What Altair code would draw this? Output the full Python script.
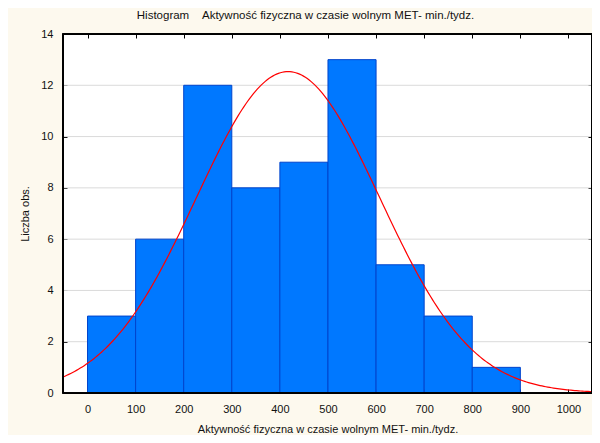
import altair as alt
import numpy as np
import pandas as pd

# Histogram data
bin_start = [0, 100, 200, 300, 400, 500, 600, 700, 800]
bin_end = [100, 200, 300, 400, 500, 600, 700, 800, 900]
counts = [3, 6, 12, 8, 9, 13, 5, 3, 1]

# Fitted normal curve parameters
fit_mean = 417.0
fit_sd = 191.0

x_ticks = [0, 100, 200, 300, 400, 500, 600, 700, 800, 900, 1000]
y_ticks = [0, 2, 4, 6, 8, 10, 12, 14]
grid_vals = [2, 4, 6, 8, 10, 12]

bars = pd.DataFrame({"start": bin_start, "end": bin_end, "count": counts})
n = sum(counts)
width_bin = 100
xs_curve = np.linspace(-51, 1049, 276)
ys_curve = n * width_bin / (fit_sd * np.sqrt(2 * np.pi)) * np.exp(-0.5 * ((xs_curve - fit_mean) / fit_sd) ** 2)
curve = pd.DataFrame({"x": xs_curve, "y": ys_curve})
grid = pd.DataFrame({"g": grid_vals})

W, H = 529, 359
xs = alt.Scale(domain=[-51, 1049], nice=False, zero=False)
ys = alt.Scale(domain=[0, 14], nice=False, zero=True)

FONT = "Liberation Sans"

x_bottom = alt.Axis(values=x_ticks, format="d", offset=-4, tickSize=4, domain=False, grid=False,
                    labelPadding=10, labelFontSize=11, labelFont=FONT, labelColor="#111",
                    tickColor="#000", title="Aktywność fizyczna w czasie wolnym MET- min./tydz.",
                    titleFont=FONT, titleFontSize=11, titleFontWeight="normal", titleColor="#111",
                    titlePadding=9)
y_left = alt.Axis(values=y_ticks, offset=-4, tickSize=4, domain=False, grid=False,
                  labelPadding=10, labelFontSize=11, labelFont=FONT, labelColor="#111",
                  tickColor="#000", title="Liczba obs.", titleFont=FONT, titleFontSize=11,
                  titleFontWeight="normal", titleColor="#111", titlePadding=10)
x_top = alt.Axis(orient="top", values=x_ticks, offset=-4, tickSize=4, domain=False, grid=False,
                 labels=False, tickColor="#000", title=None)
y_right = alt.Axis(orient="right", values=y_ticks, offset=-4, tickSize=4, domain=False, grid=False,
                   labels=False, tickColor="#000", title=None)

grid_layer = alt.Chart(grid).mark_rule(color="#dadada", strokeWidth=1).encode(
    y=alt.Y("g:Q", scale=ys, axis=None)
)

bar_layer = alt.Chart(bars).mark_bar(fill="#0078ff", stroke="#0044cc", strokeWidth=1).encode(
    x=alt.X("start:Q", scale=xs, axis=x_bottom),
    x2="end:Q",
    y=alt.Y("count:Q", scale=ys, axis=y_left),
    y2=alt.datum(0),
)

curve_layer = alt.Chart(curve).mark_line(color="#ff0000", strokeWidth=1.2).encode(
    x=alt.X("x:Q", scale=xs, axis=None),
    y=alt.Y("y:Q", scale=ys, axis=None),
)

frame_axes = alt.Chart(curve).mark_line(opacity=0).encode(
    x=alt.X("x:Q", scale=xs, axis=x_top),
    y=alt.Y("y:Q", scale=ys, axis=y_right),
)

frame = alt.Chart(grid).mark_rect(fill=None, stroke="#000", strokeWidth=1.2).encode(
    x=alt.value(0), x2=alt.value(W), y=alt.value(0), y2=alt.value(H)
)

chart = alt.layer(grid_layer, bar_layer, curve_layer, frame_axes, frame).resolve_axis(
    x="independent", y="independent"
).properties(
    width=W,
    height=H,
    autosize=alt.AutoSizeParams(type="none"),
    padding={"left": 55, "top": 26, "right": 0, "bottom": 42},
    background="#fdf9ee",
    title=alt.TitleParams(
        text="Histogram\u00a0\u00a0\u00a0\u00a0Aktywność fizyczna w czasie wolnym MET- min./tydz.",
        font=FONT, fontSize=11.5, fontWeight="normal", color="#111",
        anchor="middle", dx=-22, offset=7,
    ),
).configure_view(fill="white", stroke="#000", strokeWidth=1)

chart.save("out.html", embed_options={"renderer": "svg", "actions": False})
